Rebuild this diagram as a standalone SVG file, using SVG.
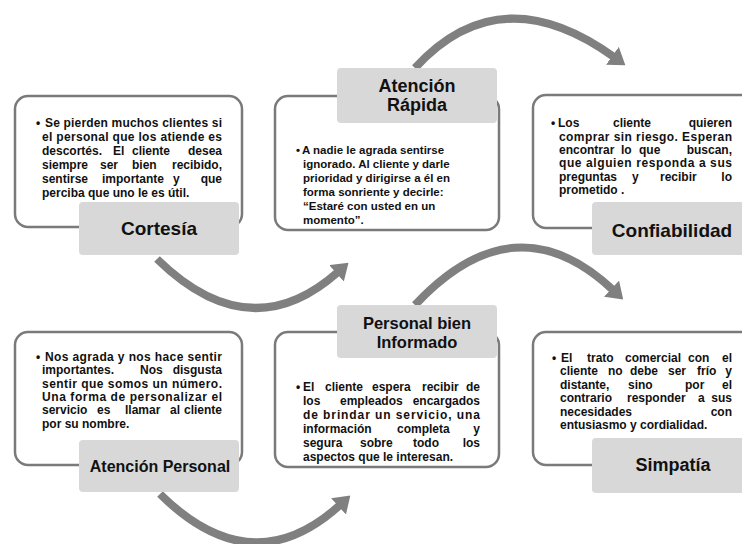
<svg xmlns="http://www.w3.org/2000/svg" width="742" height="544" viewBox="0 0 742 544">
<style>
.frame{fill:none;stroke:#7a7a7a;stroke-width:2.5}
.tag{fill:#d8d8d8}
.body{font-family:"Liberation Sans",Arial,sans-serif;font-weight:bold;font-size:12px;fill:#111}
.small{font-size:11.5px}
.lbl{font-family:"Liberation Sans",Arial,sans-serif;font-weight:bold;fill:#111;text-anchor:middle}
.arc{fill:none;stroke:#808080;stroke-width:8;marker-end:url(#ah)}
.e{text-anchor:end}
</style>
<defs>
<marker id="ah" markerUnits="userSpaceOnUse" markerWidth="16" markerHeight="22" viewBox="0 0 16 22" refX="2" refY="11" orient="auto">
<path d="M0,0 L16,11 L0,22 z" fill="#808080"/>
</marker>
</defs>
<rect width="742" height="544" fill="#fff"/>

<g id="connectors">
<path class="arc" d="M415,68 Q500,-25 614,57"/>
<path class="arc" d="M157,259 Q250,350 338,272"/>
<path class="arc" d="M415,305 Q515,198 613,290"/>
<path class="arc" d="M160,494 Q252,585 340,505"/>
</g>

<g id="cortesia">
<rect class="frame" x="15" y="96" width="227" height="131" rx="13"/>
<text class="body"><tspan x="36" y="127">•</tspan><tspan x="45" y="127" textLength="177" lengthAdjust="spacing">Se pierden muchos clientes si</tspan></text>
<text class="body" x="42" y="141" textLength="180" lengthAdjust="spacing">el personal que los atiende es</text>
<text class="body" y="155"><tspan x="42">descortés.</tspan><tspan x="113">El</tspan><tspan x="132">cliente</tspan><tspan x="222" class="e">desea</tspan></text>
<text class="body" y="169"><tspan x="42">siempre</tspan><tspan x="100">ser</tspan><tspan x="132">bien</tspan><tspan x="222" class="e">recibido,</tspan></text>
<text class="body" y="183"><tspan x="42">sentirse</tspan><tspan x="102">importante</tspan><tspan x="173">y</tspan><tspan x="222" class="e">que</tspan></text>
<text class="body" x="42" y="197">perciba que uno le es útil.</text>
<rect class="tag" x="79" y="202" width="160" height="53" rx="4"/>
<text class="lbl" x="159" y="235" font-size="19">Cortesía</text>
</g>

<g id="atencion-rapida">
<rect class="frame" x="275" y="96" width="224" height="134" rx="13"/>
<rect class="tag" x="337" y="68" width="160" height="55" rx="4"/>
<text class="lbl" font-size="18"><tspan x="417" y="92">Atención</tspan><tspan x="417" y="111">Rápida</tspan></text>
<text class="body small"><tspan x="296" y="154">•</tspan><tspan x="302" y="154">A nadie le agrada sentirse</tspan></text>
<text class="body small" x="303" y="168">ignorado. Al cliente y darle</text>
<text class="body small" x="303" y="182">prioridad y dirigirse a él en</text>
<text class="body small" x="303" y="196">forma sonriente y decirle:</text>
<text class="body small" x="303" y="210">“Estaré con usted en un</text>
<text class="body small" x="303" y="224">momento”.</text>
</g>

<g id="confiabilidad">
<rect class="frame" x="533" y="95" width="240" height="133" rx="13"/>
<text class="body" y="127"><tspan x="551">•</tspan><tspan x="558">Los</tspan><tspan x="613">cliente</tspan><tspan x="732" class="e">quieren</tspan></text>
<text class="body" x="559" y="141" textLength="173" lengthAdjust="spacing">comprar sin riesgo. Esperan</text>
<text class="body" y="154"><tspan x="559">encontrar</tspan><tspan x="621">lo</tspan><tspan x="639">que</tspan><tspan x="732" class="e">buscan,</tspan></text>
<text class="body" x="559" y="167" textLength="173" lengthAdjust="spacing">que alguien responda a sus</text>
<text class="body" y="181"><tspan x="559">preguntas</tspan><tspan x="632">y</tspan><tspan x="660">recibir</tspan><tspan x="732" class="e">lo</tspan></text>
<text class="body" x="559" y="194">prometido .</text>
<rect class="tag" x="592" y="202" width="170" height="53" rx="4"/>
<text class="lbl" x="672" y="237" font-size="19">Confiabilidad</text>
</g>

<g id="atencion-personal">
<rect class="frame" x="15" y="332" width="227" height="133" rx="13"/>
<text class="body"><tspan x="36" y="361">•</tspan><tspan x="45" y="361" textLength="177" lengthAdjust="spacing">Nos agrada y nos hace sentir</tspan></text>
<text class="body" y="374"><tspan x="42">importantes.</tspan><tspan x="140">Nos</tspan><tspan x="222" class="e">disgusta</tspan></text>
<text class="body" x="42" y="388" textLength="180" lengthAdjust="spacing">sentir que somos un número.</text>
<text class="body" x="42" y="401" textLength="180" lengthAdjust="spacing">Una forma de personalizar el</text>
<text class="body" y="414"><tspan x="42">servicio</tspan><tspan x="97">es</tspan><tspan x="125">llamar</tspan><tspan x="170">al</tspan><tspan x="222" class="e">cliente</tspan></text>
<text class="body" x="42" y="428">por su nombre.</text>
<rect class="tag" x="79" y="440" width="160" height="52" rx="4"/>
<text class="lbl" x="160" y="472" font-size="16">Atención Personal</text>
</g>

<g id="personal-bien-informado">
<rect class="frame" x="275" y="332" width="224" height="135" rx="13"/>
<rect class="tag" x="337" y="305" width="160" height="53" rx="4"/>
<text class="lbl" font-size="16.5"><tspan x="417" y="329">Personal bien</tspan><tspan x="417" y="348">Informado</tspan></text>
<text class="body" y="391"><tspan x="296">•</tspan><tspan x="303">El</tspan><tspan x="325">cliente</tspan><tspan x="372">espera</tspan><tspan x="422">recibir</tspan><tspan x="480" class="e">de</tspan></text>
<text class="body" y="405"><tspan x="303">los</tspan><tspan x="340">empleados</tspan><tspan x="480" class="e">encargados</tspan></text>
<text class="body" x="303" y="419" textLength="177" lengthAdjust="spacing">de brindar un servicio, una</text>
<text class="body" y="433"><tspan x="303">información</tspan><tspan x="397">completa</tspan><tspan x="480" class="e">y</tspan></text>
<text class="body" y="447"><tspan x="303">segura</tspan><tspan x="360">sobre</tspan><tspan x="413">todo</tspan><tspan x="480" class="e">los</tspan></text>
<text class="body" x="303" y="461">aspectos que le interesan.</text>
</g>

<g id="simpatia">
<rect class="frame" x="533" y="332" width="240" height="133" rx="13"/>
<text class="body" y="362"><tspan x="552">•</tspan><tspan x="561">El</tspan><tspan x="587">trato</tspan><tspan x="625">comercial</tspan><tspan x="688">con</tspan><tspan x="732" class="e">el</tspan></text>
<text class="body" y="375"><tspan x="560">cliente</tspan><tspan x="608">no</tspan><tspan x="630">debe</tspan><tspan x="668">ser</tspan><tspan x="697">frío</tspan><tspan x="732" class="e">y</tspan></text>
<text class="body" y="389"><tspan x="560">distante,</tspan><tspan x="628">sino</tspan><tspan x="685">por</tspan><tspan x="732" class="e">el</tspan></text>
<text class="body" y="402"><tspan x="560">contrario</tspan><tspan x="627">responder</tspan><tspan x="698">a</tspan><tspan x="732" class="e">sus</tspan></text>
<text class="body" y="416"><tspan x="560">necesidades</tspan><tspan x="732" class="e">con</tspan></text>
<text class="body" x="560" y="429">entusiasmo y cordialidad.</text>
<rect class="tag" x="592" y="438" width="170" height="55" rx="4"/>
<text class="lbl" x="673" y="471" font-size="18">Simpatía</text>
</g>
</svg>
